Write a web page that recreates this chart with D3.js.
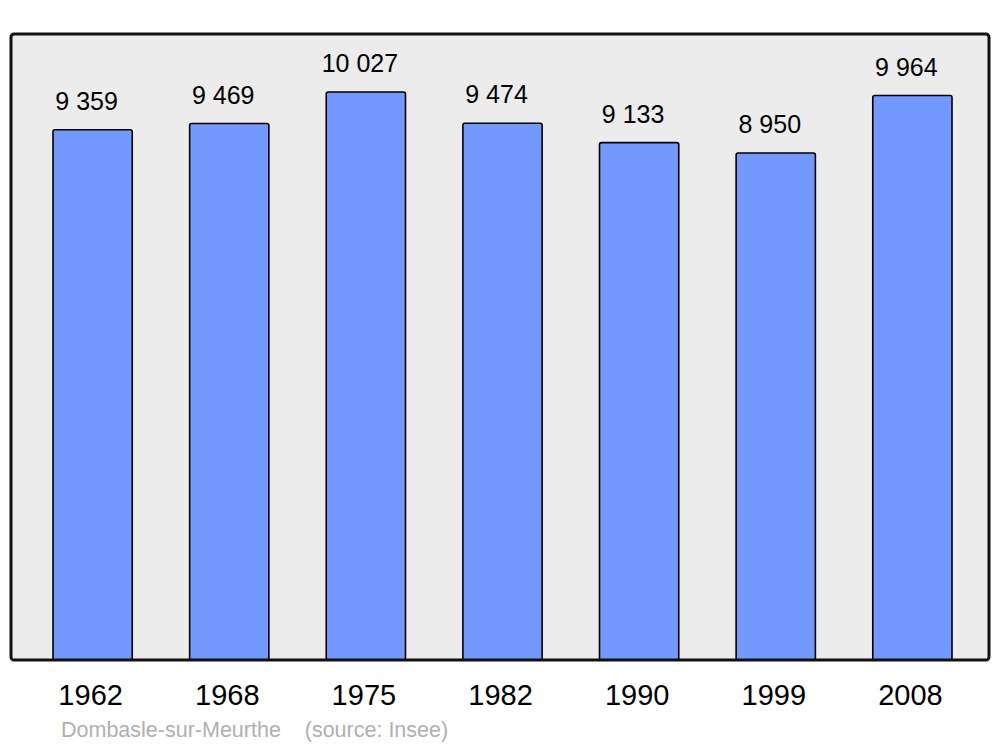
<!DOCTYPE html>
<html><head><meta charset="utf-8">
<script src="https://cdn.jsdelivr.net/npm/d3@7"></script>
<style>body{margin:0;background:#fff}svg{display:block}text{font-family:"Liberation Sans",Arial,sans-serif}</style>
</head><body>
<script>
const years = ["1962","1968","1975","1982","1990","1999","2008"];
const population = [9359, 9469, 10027, 9474, 9133, 8950, 9964];
const valueLabels = ["9 359","9 469","10 027","9 474","9 133","8 950","9 964"];
const townName = "Dombasle-sur-Meurthe";
const sourceText = "(source: Insee)";

const W = 1000, H = 747;
const svg = d3.select("body").append("svg").attr("width", W).attr("height", H);

const panel = {x: 11, y: 34, w: 978, h: 626};
svg.append("rect").attr("x", panel.x).attr("y", panel.y).attr("width", panel.w).attr("height", panel.h)
  .attr("rx", 3).attr("fill", "#ececec");

const x = d3.scaleBand().domain(years).range([53, 952]).paddingInner(0.42).paddingOuter(0);
const y = d3.scaleLinear().domain([0, 11050]).range([660, 34]);

svg.selectAll("rect.bar").data(years).enter().append("rect").attr("class", "bar")
  .attr("x", d => x(d)).attr("width", x.bandwidth())
  .attr("y", (d, i) => y(population[i])).attr("height", (d, i) => y(0) - y(population[i]))
  .attr("rx", 2).attr("fill", "#7399ff").attr("stroke", "#000").attr("stroke-width", 1.6);

svg.selectAll("text.val").data(years).enter().append("text").attr("class", "val")
  .attr("x", d => x(d) + x.bandwidth() / 2 - 6)
  .attr("y", (d, i) => y(population[i]) - 20)
  .attr("text-anchor", "middle").attr("font-size", 25).attr("fill", "#000")
  .text((d, i) => valueLabels[i]);

svg.append("rect").attr("x", panel.x).attr("y", panel.y).attr("width", panel.w).attr("height", panel.h)
  .attr("rx", 3).attr("fill", "none").attr("stroke", "#111").attr("stroke-width", 3);

const axis = d3.axisBottom(x).tickSize(0).tickPadding(0);
const g = svg.append("g").attr("transform", "translate(-2,0)").call(axis);
g.select(".domain").remove();
g.selectAll("text").attr("y", 705).attr("dy", null).attr("font-size", 29).attr("fill", "#000")
  .attr("font-family", '"Liberation Sans",Arial,sans-serif');

svg.append("text").attr("x", 61).attr("y", 737).attr("font-size", 21.5).attr("fill", "#b0b0b0")
  .attr("xml:space", "preserve").text(townName + "    " + sourceText);
</script>
</body></html>
